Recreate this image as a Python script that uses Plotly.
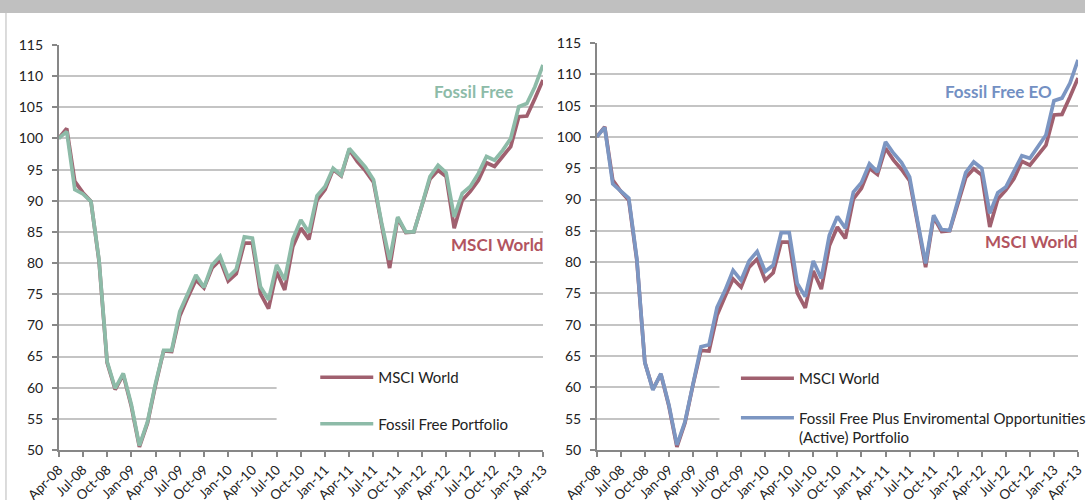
import pandas as pd
import plotly.graph_objects as go

W, H = 1091, 500

# Month labels (Apr-08 .. Apr-13)
months = [d.strftime("%b-%y") for d in pd.date_range("2008-04-01", "2013-04-01", freq="MS")]
tick_labels = months[::3]

msci_world = [100.0, 101.6, 93.1, 91.3, 89.9, 80.3, 64.0, 59.7, 62.1, 57.0,
              50.5, 54.3, 60.4, 65.9, 65.8, 71.5, 74.5, 77.3, 76.0, 79.2,
              80.5, 77.1, 78.3, 83.2, 83.2, 75.1, 72.7, 78.6, 75.7, 82.6,
              85.6, 83.8, 90.1, 91.8, 95.0, 94.0, 98.2, 96.3, 94.8, 93.0,
              86.2, 79.2, 87.2, 84.9, 85.0, 89.2, 93.5, 94.9, 93.9, 85.6,
              90.1, 91.5, 93.3, 96.1, 95.5, 97.1, 98.7, 103.5, 103.6, 106.4,
              109.4]

fossil_free = [100.0, 101.1, 91.8, 91.1, 89.9, 80.5, 64.2, 59.9, 62.3, 57.3,
               50.7, 54.5, 60.7, 66.0, 66.0, 72.2, 75.1, 78.1, 76.1, 79.7,
               81.1, 77.7, 79.0, 84.2, 84.0, 76.2, 74.1, 79.7, 77.3, 83.8,
               86.9, 84.9, 90.8, 92.3, 95.2, 94.1, 98.4, 96.8, 95.4, 93.4,
               86.5, 80.5, 87.4, 85.0, 85.0, 89.3, 93.9, 95.7, 94.5, 87.4,
               91.2, 92.3, 94.4, 97.1, 96.5, 98.1, 100.0, 105.1, 105.6, 108.3,
               111.8]

fossil_free_eo = [100.0, 101.5, 92.5, 91.4, 90.2, 80.6, 64.0, 59.6, 62.2, 57.2,
                  50.8, 54.5, 60.6, 66.5, 66.8, 72.8, 75.5, 78.7, 77.1, 80.2,
                  81.7, 78.5, 79.5, 84.7, 84.7, 76.6, 74.5, 80.2, 77.4, 84.3,
                  87.3, 85.4, 91.2, 92.7, 95.7, 94.4, 99.2, 97.4, 95.9, 93.6,
                  86.5, 79.8, 87.5, 85.2, 85.1, 89.6, 94.3, 96.0, 95.0, 87.8,
                  91.1, 92.0, 94.4, 97.0, 96.6, 98.4, 100.3, 105.8, 106.2, 108.6,
                  112.3]

C_MSCI = "#A0606F"
C_FF = "#8DBBA8"
C_EO = "#7C96C2"
C_MSCI_TXT = "#B2545F"
C_FF_TXT = "#8DBBA8"
C_EO_TXT = "#7390C3"
FONT = "Lato"


def px_x(p):
    return p / W


def px_y(p):
    return 1 - p / H


fig = go.Figure()
fig.add_trace(go.Scatter(x=months, y=msci_world, mode="lines", name="MSCI World",
                         line=dict(color=C_MSCI, width=3.7), xaxis="x", yaxis="y",
                         legend="legend", legendgroup="a"))
fig.add_trace(go.Scatter(x=months, y=fossil_free, mode="lines", name="Fossil Free Portfolio",
                         line=dict(color=C_FF, width=3.7), xaxis="x", yaxis="y",
                         legend="legend", legendgroup="b"))
fig.add_trace(go.Scatter(x=months, y=msci_world, mode="lines", name="MSCI World",
                         line=dict(color=C_MSCI, width=3.7), xaxis="x2", yaxis="y2",
                         legend="legend2", legendgroup="c"))
fig.add_trace(go.Scatter(x=months, y=fossil_free_eo, mode="lines",
                         name="Fossil Free Plus Enviromental Opportunities<br>(Active) Portfolio",
                         line=dict(color=C_EO, width=3.7), xaxis="x2", yaxis="y2",
                         legend="legend2", legendgroup="d"))

xcommon = dict(type="category", range=[0, 60], tickmode="array", tickvals=tick_labels,
               ticktext=tick_labels, tickangle=-45, ticks="outside", ticklen=5,
               tickcolor="#878787", tickwidth=1.5, showline=True, linecolor="#878787",
               linewidth=1.5, showgrid=False, zeroline=False, automargin=False,
               tickfont=dict(family=FONT, size=13.5, color="#222222"))
ycommon = dict(range=[50, 115], dtick=5, tick0=50, ticks="outside", ticklen=5,
               tickcolor="#878787", tickwidth=1.5, showline=True, linecolor="#878787",
               linewidth=1.5, showgrid=True, gridcolor="#C4C4C4", gridwidth=1.5,
               zeroline=False, automargin=False, ticklabelstandoff=6,
               tickfont=dict(family=FONT, size=14, color="#222222"))

fig.update_layout(
    width=W, height=H,
    margin=dict(l=0, r=0, t=0, b=0),
    paper_bgcolor="white", plot_bgcolor="white",
    xaxis=dict(domain=[px_x(59), px_x(546)], anchor="y", **xcommon),
    yaxis=dict(domain=[px_y(450), px_y(45)], anchor="x", **ycommon),
    xaxis2=dict(domain=[px_x(600), px_x(1084)], anchor="y2", **xcommon),
    yaxis2=dict(domain=[px_y(450), px_y(43)], anchor="x2", **ycommon),
    legend=dict(x=px_x(317), y=px_y(361), xanchor="left", yanchor="top",
                bgcolor="rgba(0,0,0,0)", borderwidth=0, itemwidth=53,
                tracegroupgap=24, font=dict(family=FONT, size=15, color="#222222")),
    legend2=dict(x=px_x(740), y=px_y(362), xanchor="left", yanchor="top",
                 bgcolor="rgba(0,0,0,0)", borderwidth=0, itemwidth=53, valign="top",
                 tracegroupgap=17, font=dict(family=FONT, size=15, color="#222222")),
    showlegend=True,
)

shapes = [
    dict(type="rect", xref="paper", yref="paper", x0=0, x1=1, y0=px_y(13), y1=1,
         fillcolor="#C0C0C0", line=dict(width=0), layer="above"),
    dict(type="line", xref="paper", yref="paper", x0=px_x(6), x1=px_x(6), y0=0, y1=px_y(13),
         line=dict(color="#D0D0D0", width=1.5)),
    # white legend backgrounds hiding the grid lines behind each legend
    dict(type="rect", xref="x", yref="y", x0=27, x1=60, y0=50.3, y1=64,
         fillcolor="white", line=dict(width=0), layer="between"),
    dict(type="rect", xref="x2", yref="y2", x0=15.3, x1=60, y0=50.3, y1=64,
         fillcolor="white", line=dict(width=0), layer="between"),
]
fig.update_layout(shapes=shapes)

annots = [
    dict(text="<b>Fossil Free</b>", x=px_x(476), y=px_y(92), color=C_FF_TXT),
    dict(text="<b>MSCI World</b>", x=px_x(500), y=px_y(244), color=C_MSCI_TXT),
    dict(text="<b>Fossil Free EO</b>", x=px_x(1004), y=px_y(92), color=C_EO_TXT),
    dict(text="<b>MSCI World</b>", x=px_x(1037), y=px_y(241), color=C_MSCI_TXT),
]
for a in annots:
    fig.add_annotation(text=a["text"], x=a["x"], y=a["y"], xref="paper", yref="paper",
                       showarrow=False, xanchor="center", yanchor="middle",
                       font=dict(family=FONT, size=17, color=a["color"]))

fig.write_html("out.html", config={"displayModeBar": False},
               post_script="document.body.style.margin='0';document.body.style.overflow='hidden';")
